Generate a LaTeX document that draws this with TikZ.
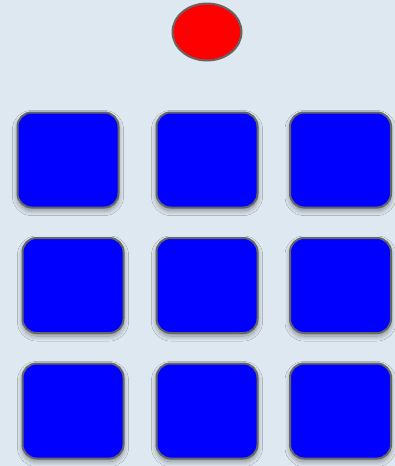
\documentclass[tikz,border=0pt]{standalone}
\usetikzlibrary{shapes.geometric,shadows.blur}
\definecolor{bgc}{HTML}{DEE8F0}
\definecolor{edgec}{HTML}{666666}
\tikzset{
  tile/.style={rectangle, rounded corners=14pt, minimum width=101pt, minimum height=95pt,
    fill=blue, draw=edgec, line width=2pt, inner sep=0pt,
    blur shadow={shadow xshift=0pt, shadow yshift=-3pt, shadow blur radius=5pt, shadow blur steps=10, shadow blur extra rounding=3pt, shadow opacity=40}},
  topball/.style={ellipse, minimum width=69pt, minimum height=57pt, fill=red, draw=edgec, line width=2pt, inner sep=0pt}
}
\begin{document}
\begin{tikzpicture}[x=1pt,y=-1pt]
\fill[bgc] (0,0) rectangle (395,466);
\useasboundingbox (0,0) rectangle (395,466);
\node[topball] (ball) at (207,32) {};
\node[tile] (a1) at (68,160) {};
\node[tile] (a2) at (207,160) {};
\node[tile] (a3) at (340.5,160) {};
\node[tile] (b1) at (73,285.5) {};
\node[tile] (b2) at (207,285.5) {};
\node[tile] (b3) at (340.5,285.5) {};
\node[tile] (c1) at (73,411) {};
\node[tile] (c2) at (207,411) {};
\node[tile] (c3) at (340.5,411) {};
\end{tikzpicture}
\end{document}
